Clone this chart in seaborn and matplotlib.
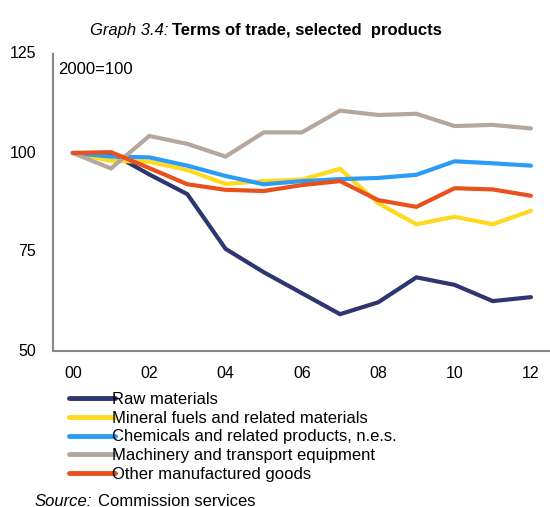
import matplotlib
matplotlib.use("Agg")
import matplotlib.pyplot as plt
import seaborn as sns
import pandas as pd
from matplotlib.lines import Line2D

years = list(range(0, 13))
tick_labels = ["00", "02", "04", "06", "08", "10", "12"]

raw_materials = [100, 100.0, 94.6, 89.6, 75.8, 69.9, 64.6, 59.3, 62.3, 68.6, 66.7, 62.6, 63.6]
mineral_fuels = [100, 98.0, 97.8, 95.7, 92.2, 92.9, 93.3, 96.0, 87.3, 82.0, 83.9, 82.0, 85.4]
chemicals = [100, 99.1, 98.9, 96.8, 94.2, 92.1, 92.9, 93.4, 93.7, 94.5, 97.9, 97.4, 96.8]
machinery = [100, 96.1, 104.3, 102.3, 99.1, 105.2, 105.2, 110.7, 109.6, 109.9, 106.8, 107.1, 106.2]
other_manuf = [100, 100.2, 96.2, 92.1, 90.7, 90.4, 91.9, 92.9, 88.1, 86.4, 91.1, 90.8, 89.2]

series_names = [
    "Raw materials",
    "Mineral fuels and related materials",
    "Chemicals and related products, n.e.s.",
    "Machinery and transport equipment",
    "Other manufactured goods",
]
series_values = [raw_materials, mineral_fuels, chemicals, machinery, other_manuf]
colors = ["#2D3670", "#FFD91F", "#2B9CF5", "#B5A69E", "#E8501C"]

rows = []
for name, vals in zip(series_names, series_values):
    for y, v in zip(years, vals):
        rows.append({"year": y, "value": v, "series": name})
df = pd.DataFrame(rows)

sns.set_style("white")
plt.rcParams["font.family"] = ["Liberation Sans", "DejaVu Sans"]
plt.rcParams["text.color"] = "black"

fig = plt.figure(figsize=(5.5, 5.07), dpi=100)
ax = fig.add_axes([53 / 550, 1 - 351 / 507, 1 - 53 / 550, (351 - 54) / 507])

sns.lineplot(data=df, x="year", y="value", hue="series", hue_order=series_names,
             palette=colors, linewidth=3.0, ax=ax, legend=False,
             solid_capstyle="round", solid_joinstyle="miter")

ax.set_xlim(-0.52, 12.5)
ax.set_ylim(50, 125)
ax.set_yticks([50, 75, 100, 125])
ax.set_xticks(years[::2])
ax.set_xticklabels(tick_labels)
ax.set_xlabel("")
ax.set_ylabel("")
ax.tick_params(axis="both", length=0, labelsize=11.5, colors="black",
               labelcolor="black")
ax.tick_params(axis="y", pad=12)
ax.tick_params(axis="x", pad=11)
for lbl in ax.get_yticklabels():
    lbl.set_verticalalignment("center")
for side in ["top", "right"]:
    ax.spines[side].set_visible(False)
for side in ["left", "bottom"]:
    ax.spines[side].set_color("#888888")
    ax.spines[side].set_linewidth(1.5)

fig.text(58 / 550, 1 - 70 / 507, "2000=100", fontsize=12, va="center", ha="left",
         color="black")

# Title
fig.text(168 / 550, 1 - 30 / 507, "Graph 3.4:", fontsize=12, style="italic",
         ha="right", va="center", color="black")
fig.text(172 / 550, 1 - 30 / 507, "Terms of trade, selected  products", fontsize=12,
         fontweight="bold", ha="left", va="center", color="black")

# Legend
handles = [Line2D([0], [0], color=c, lw=3.5, solid_capstyle="round") for c in colors]
leg = fig.legend(handles, series_names, loc="upper left",
                 bbox_to_anchor=(69 / 550, 1 - 392 / 507), frameon=False,
                 fontsize=12, handlelength=2.75, handletextpad=-0.15,
                 labelspacing=0.22, borderaxespad=0, borderpad=0)
for t in leg.get_texts():
    t.set_color("black")

# Source
fig.text(35 / 550, 1 - 501 / 507, "Source:", fontsize=12, style="italic",
         ha="left", va="center", color="black")
fig.text(98 / 550, 1 - 501 / 507, "Commission services", fontsize=12,
         ha="left", va="center", color="black")

fig.savefig("out.png", dpi=100)
